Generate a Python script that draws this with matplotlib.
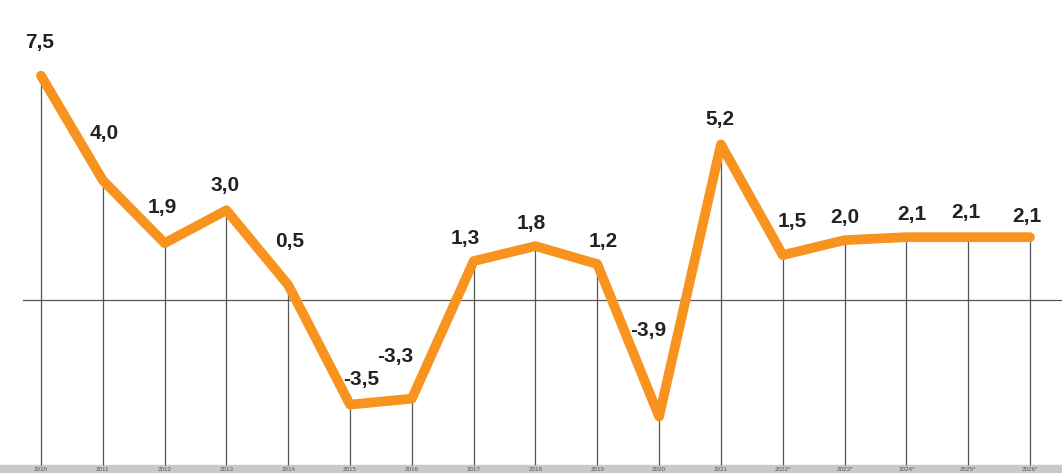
import numpy as np
import matplotlib.pyplot as plt

# Datos
anos = ['2010', '2011', '2012', '2013', '2014', '2015', '2016', '2017', '2018',
        '2019', '2020', '2021', '2022*', '2023*', '2024*', '2025*', '2026*']
valores = [7.5, 4.0, 1.9, 3.0, 0.5, -3.5, -3.3, 1.3, 1.8, 1.2, -3.9, 5.2,
           1.5, 2.0, 2.1, 2.1, 2.1]

# desplazamiento de cada etiqueta (en puntos)
desp_x = [-1, 1, -2, -1, 1, 8, -12, -6, -3, 4, -8, -1, 7, 0, 4, -2, -2]
desp_y = [24, 34, 26, 18, 31, 18, 30, 16, 16, 16, 62, 18, 24, 16, 16, 18, 15]

naranja = '#f7931e'
gris = '#555555'

fig = plt.figure(figsize=(10.62, 4.73), dpi=100)
ax = fig.add_axes([0, 0, 1, 1])

x = np.arange(len(valores))
piso = -5.52

# lineas verticales
ax.vlines(x, piso, valores, color=gris, linewidth=0.9, zorder=1)
# linea del cero
ax.plot([-0.29, 16.6], [0, 0], color=gris, linewidth=0.9, zorder=1)

ax.plot(x, valores, color=naranja, linewidth=7, solid_capstyle='round',
        solid_joinstyle='round', zorder=3)

fuente = ['Liberation Sans', 'DejaVu Sans']
for i, v in enumerate(valores):
    txt = f'{v:.1f}'.replace('.', ',')
    ax.annotate(txt, (x[i], v), xytext=(desp_x[i], desp_y[i]),
                textcoords='offset points', ha='center', va='center',
                fontsize=15, fontweight='bold', color='#222222',
                family=fuente, zorder=4)

# franja gris inferior con los años
ax.axhspan(-5.9, piso, color='#c9c9c9', zorder=0)
for i, a in enumerate(anos):
    ax.text(x[i], (piso - 5.786) / 2, a, ha='center', va='center',
            fontsize=4.5, color='#555555', family=fuente, zorder=2)

ax.set_xlim(-0.663, 16.518)
ax.set_ylim(-5.786, 10.03)
ax.axis('off')

fig.savefig('out.png', dpi=100)
